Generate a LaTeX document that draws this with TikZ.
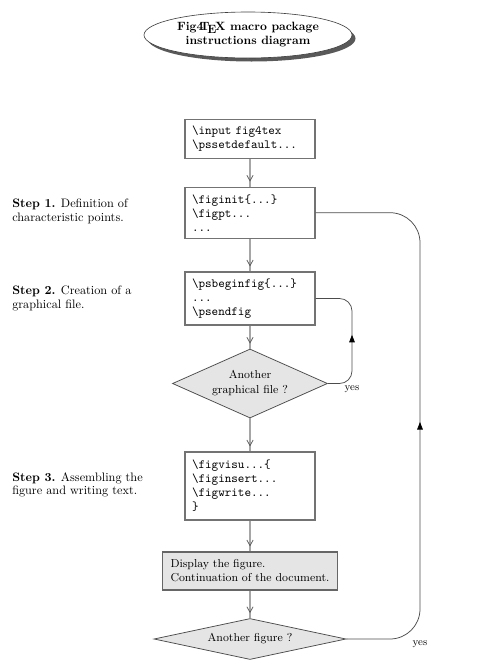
\documentclass[tikz,border=0pt]{standalone}
\usetikzlibrary{shapes.geometric,arrows.meta,decorations.markings,shadows}
\begin{document}
\begin{tikzpicture}[x=0.8pt,y=-0.8pt,
  codebox/.style={draw=black!55, line width=0.9pt, fill=white, align=left,
    text width=92.8pt, inner xsep=5.6pt, inner ysep=2pt,
    font=\fontsize{10}{11.2}\selectfont\ttfamily},
  graybox/.style={draw=black!60, line width=0.9pt, fill=black!10, align=left,
    text width=127.2pt, inner xsep=6.4pt, inner ysep=2pt, minimum height=30.4pt,
    font=\fontsize{9.2}{11.2}\selectfont},
  decision/.style={diamond, draw=black!70, line width=0.6pt, fill=black!10,
    inner sep=0pt, align=center, font=\fontsize{9.2}{12}\selectfont},
  steptext/.style={anchor=west, align=left, inner sep=0pt,
    font=\fontsize{9.8}{10.8}\selectfont},
  yeslabel/.style={inner sep=0pt, font=\fontsize{8.5}{10}\selectfont},
  conn/.style={draw=black!35, line width=1pt, postaction={decorate},
    decoration={markings, mark=at position -4pt with
      {\arrow[black!65, line width=0.6pt]{Straight Barb[length=4.5pt,width=5pt]}}}},
  loopline/.style={draw=black!70, line width=0.6pt, postaction={decorate},
    decoration={markings, mark=at position #1 with
      {\arrow[black]{Triangle[length=6pt,width=4.5pt]}}}}
]
\useasboundingbox (0,0) rectangle (500,671);

% title
\node[ellipse, draw=black!75, line width=0.5pt, fill=white, inner sep=0pt,
  minimum width=166.4pt, minimum height=36.8pt, align=center,
  drop shadow={shadow xshift=2.8pt, shadow yshift=-2.8pt, fill=black!65, opacity=1},
  font=\fontsize{9.6}{11.2}\selectfont\bfseries] (title) at (248,35)
  {Fig4\kern-0.3em\TeX{} macro package\\instructions diagram};

% boxes
\node[codebox, minimum height=31.2pt] (b1) at (250,138.7)
  {\textbackslash input fig4tex\\\textbackslash pssetdefault...};
\node[codebox, minimum height=40.8pt] (b2) at (250,212.7)
  {\textbackslash figinit\{...\}\\\textbackslash figpt...\\...};
\node[codebox, minimum height=42.4pt] (b3) at (250,298.5)
  {\textbackslash psbeginfig\{...\}\\...\\\textbackslash psendfig};
\node[decision, aspect=2.25, minimum width=124pt, minimum height=55.2pt] (d1) at (250,383.5)
  {Another\\graphical file ?};
\node[codebox, minimum height=54.4pt] (b4) at (250,486)
  {\textbackslash figvisu...\{\\\textbackslash figinsert...\\\textbackslash figwrite...\\\}};
\node[graybox] (b5) at (250,571)
  {Display the figure.\\Continuation of the document.};
\node[decision, aspect=4.6, minimum width=153.6pt, minimum height=32.8pt] (d2) at (250,639)
  {Another figure ?};

% step texts
\node[steptext] (s1) at (12,211.5) {\textbf{Step 1.} Definition of\\characteristic points.};
\node[steptext] (s2) at (12,298.5) {\textbf{Step 2.} Creation of a\\graphical file.};
\node[steptext] (s3) at (12,485) {\textbf{Step 3.} Assembling the\\figure and writing text.};

% main connectors
\draw[conn] (b1.south) -- (b2.north);
\draw[conn] (b2.south) -- (b3.north);
\draw[conn] (b3.south) -- (d1.north);
\draw[conn] (d1.south) -- (b4.north);
\draw[conn] (b4.south) -- (b5.north);
\draw[conn] (b5.south) -- (d2.north);

% loops
\coordinate (r1) at (352,0);
\coordinate (r2) at (420,0);
\draw[loopline=0.5, rounded corners=10pt] (d1.east) -| (r1 |- b3.east) -- (b3.east);
\draw[loopline=0.48, rounded corners=24pt] (d2.east) -| (r2 |- b2.east) -- (b2.east);

\node[yeslabel] (y1) at (352,389) {yes};
\node[yeslabel] (y2) at (420,644) {yes};
\end{tikzpicture}
\end{document}
